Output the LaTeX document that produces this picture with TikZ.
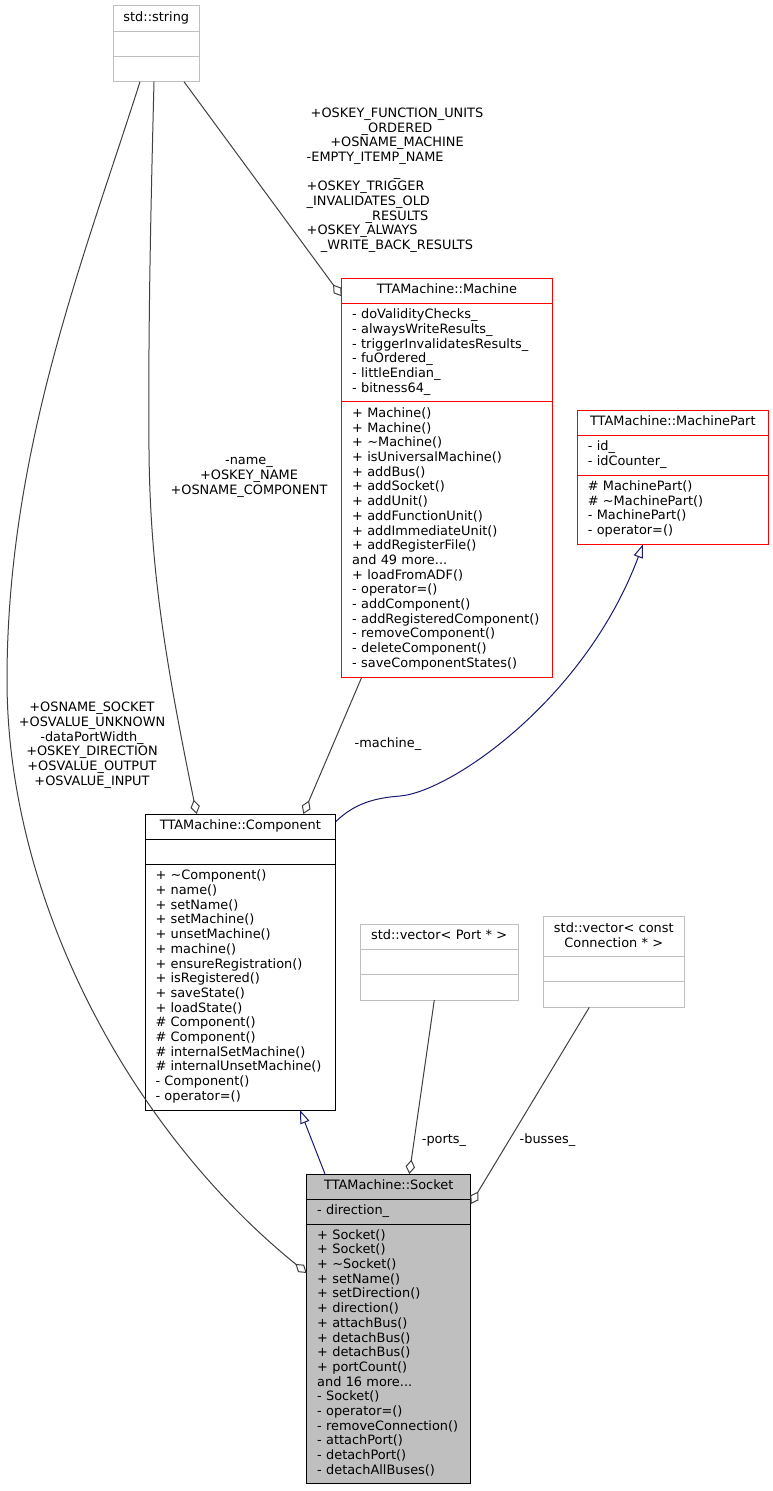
\documentclass[tikz,border=0pt]{standalone}
\usepackage{fontspec}
\setmainfont{DejaVu Sans}
\usepackage{xcolor}
\usetikzlibrary{positioning,arrows.meta,calc}

\definecolor{grey75}{HTML}{BFBFBF}
\definecolor{grey25}{HTML}{404040}
\definecolor{midnight}{HTML}{191970}
\definecolor{clsred}{HTML}{FF0000}

\tikzset{
  umlfont/.style={font=\fontsize{12.9}{14.7}\selectfont,
    execute at begin node=\strut, execute at end node=\strut},
  classhead/.style={umlfont, draw, rectangle, line width=1pt, outer sep=0pt,
    inner xsep=4pt, inner ysep=0pt, align=center, minimum height=25pt},
  classbody/.style={umlfont, draw, rectangle, line width=1pt, outer sep=0pt,
    inner xsep=10.5pt, inner ysep=0pt, align=left},
  assoc/.style={draw=grey25, line width=1pt, -{Diamond[open, length=14.5pt, width=9.5pt]}},
  inherit/.style={draw=midnight, line width=1pt, -{Triangle[open, length=13.5pt, width=9.5pt]}},
  edgelabel/.style={umlfont, align=center, inner sep=0pt}
}

\begin{document}
\begin{tikzpicture}[x=1pt, y=-1pt]

\useasboundingbox (0,0) rectangle (773,1491);

%std::string
\node[classhead, draw=grey75, text width=78pt, minimum height=26pt, anchor=north west] (str) at (113.3,5.7) {std::string};
\node[classbody, draw=grey75, text width=65pt, minimum height=25pt, below=0pt of str] (str-a) {};
\node[classbody, draw=grey75, text width=65pt, minimum height=25pt, below=0pt of str-a] (str-m) {};

%TTAMachine::Machine
\node[classhead, draw=clsred, text width=202.6pt, anchor=north west] (mach) at (341.7,278.3) {TTAMachine::Machine};
\node[classbody, draw=clsred, text width=189.6pt, minimum height=98.4pt, below=0pt of mach] (mach-a)
  {- doValidityChecks\_\\- alwaysWriteResults\_\\- triggerInvalidatesResults\_\\- fuOrdered\_\\- littleEndian\_\\- bitness64\_};
\node[classbody, draw=clsred, text width=189.6pt, minimum height=275.6pt, below=0pt of mach-a] (mach-m)
  {+ Machine()\\+ Machine()\\+ \textasciitilde Machine()\\+ isUniversalMachine()\\+ addBus()\\+ addSocket()\\+ addUnit()\\+ addFunctionUnit()\\+ addImmediateUnit()\\+ addRegisterFile()\\and 49 more...\\+ loadFromADF()\\- operator=()\\- addComponent()\\- addRegisteredComponent()\\- removeComponent()\\- deleteComponent()\\- saveComponentStates()};

%TTAMachine::MachinePart
\node[classhead, draw=clsred, text width=183pt, anchor=north west] (part) at (577.3,410) {TTAMachine::MachinePart};
\node[classbody, draw=clsred, text width=170pt, minimum height=40pt, below=0pt of part] (part-a)
  {- id\_\\- idCounter\_};
\node[classbody, draw=clsred, text width=170pt, minimum height=69.3pt, below=0pt of part-a] (part-m)
  {\# MachinePart()\\\# \textasciitilde MachinePart()\\- MachinePart()\\- operator=()};

%TTAMachine::Component
\node[classhead, text width=182.7pt, minimum height=25.3pt, anchor=north west] (comp) at (145,814) {TTAMachine::Component};
\node[classbody, text width=169.7pt, minimum height=25pt, below=0pt of comp] (comp-a) {};
\node[classbody, text width=169.7pt, minimum height=245.7pt, below=0pt of comp-a] (comp-m)
  {+ \textasciitilde Component()\\+ name()\\+ setName()\\+ setMachine()\\+ unsetMachine()\\+ machine()\\+ ensureRegistration()\\+ isRegistered()\\+ saveState()\\+ loadState()\\\# Component()\\\# Component()\\\# internalSetMachine()\\\# internalUnsetMachine()\\- Component()\\- operator=()};

%std::vector< Port * >
\node[classhead, draw=grey75, text width=150.3pt, minimum height=25.3pt, anchor=north west] (vport) at (360,924) {std::vector< Port * >};
\node[classbody, draw=grey75, text width=137.3pt, minimum height=25.4pt, below=0pt of vport] (vport-a) {};
\node[classbody, draw=grey75, text width=137.3pt, minimum height=25.3pt, below=0pt of vport-a] (vport-m) {};

%std::vector< const Connection * >
\node[classhead, draw=grey75, text width=133pt, minimum height=40pt, anchor=north west] (vconn) at (543.3,916.7) {std::vector< const\\Connection * >};
\node[classbody, draw=grey75, text width=120pt, minimum height=25pt, below=0pt of vconn] (vconn-a) {};
\node[classbody, draw=grey75, text width=120pt, minimum height=25.6pt, below=0pt of vconn-a] (vconn-m) {};

%TTAMachine::Socket
\node[classhead, fill=grey75, text width=156pt, anchor=north west] (sock) at (306.7,1174) {TTAMachine::Socket};
\node[classbody, fill=grey75, text width=143pt, minimum height=25.3pt, below=0pt of sock] (sock-a) {- direction\_};
\node[classbody, fill=grey75, text width=143pt, minimum height=259pt, below=0pt of sock-a] (sock-m)
  {+ Socket()\\+ Socket()\\+ \textasciitilde Socket()\\+ setName()\\+ setDirection()\\+ direction()\\+ attachBus()\\+ detachBus()\\+ detachBus()\\+ portCount()\\and 16 more...\\- Socket()\\- operator=()\\- removeConnection()\\- attachPort()\\- detachPort()\\- detachAllBuses()};

%Draw the edges
\draw[assoc] ([xshift=-16.3pt]str-m.south) .. controls (85,255) and (7,450) .. (7,680)
             .. controls (7,900) and (130,1130) .. ([yshift=-99pt]sock.north west);
\draw[assoc] ([xshift=-2.3pt]str-m.south) .. controls (151,200) and (148,330) .. (149,450)
             .. controls (150,570) and (166,664) .. ([xshift=-43.7pt]comp.north);
\draw[assoc] ([xshift=27.7pt]str-m.south) -- ([yshift=-18pt]mach.north west);
\draw[assoc] ([xshift=-85.3pt]mach-m.south) -- ([xshift=63pt]comp.north);
\draw[assoc] ([xshift=-4.85pt]vport-m.south) -- ([xshift=20.6pt]sock.north);
\draw[assoc] ([xshift=-24.5pt]vconn-m.south) -- ([yshift=-5pt]sock.south east);

%Add inheritance
\draw[inherit] ([yshift=5pt]comp.east) .. controls (355,803) and (375,798) .. (400,796)
               .. controls (450,792) and (585,700) .. ([xshift=-29.8pt]part-m.south);
\draw[inherit] ([xshift=-63.7pt]sock.north) -- ([xshift=59.65pt]comp-m.south);

%Edge labels
\node[edgelabel] (lsock) at (92,745.8)
  {+OSNAME\_SOCKET\\+OSVALUE\_UNKNOWN\\-dataPortWidth\_\\+OSKEY\_DIRECTION\\+OSVALUE\_OUTPUT\\+OSVALUE\_INPUT};
\node[edgelabel] (lname) at (249,478.2)
  {-name\_\\+OSKEY\_NAME\\+OSNAME\_COMPONENT};
\node[edgelabel, text width=180.6pt] (lmach) at (397,180.6)
  {+OSKEY\_FUNCTION\_UNITS\\\_ORDERED\\+OSNAME\_MACHINE\\
   \makebox[\hsize][l]{-EMPTY\_ITEMP\_NAME}\\\_\\
   \makebox[\hsize][l]{+OSKEY\_TRIGGER}\\\makebox[\hsize][l]{\_INVALIDATES\_OLD}\\\_RESULTS\\
   \makebox[\hsize][l]{+OSKEY\_ALWAYS}\\\_WRITE\_BACK\_RESULTS};
\node[edgelabel] (lmachine) at (388,745) {-machine\_};
\node[edgelabel] (lports) at (444,1141) {-ports\_};
\node[edgelabel] (lbusses) at (547.5,1141) {-busses\_};

\end{tikzpicture}
\end{document}
